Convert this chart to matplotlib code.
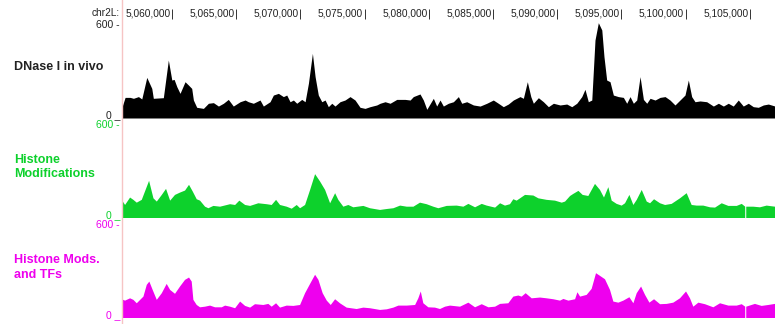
import numpy as np
import matplotlib
matplotlib.use("Agg")
import matplotlib.pyplot as plt
from matplotlib.lines import Line2D
from matplotlib.transforms import offset_copy

# genome window on chr2L, in kb
chrom = "chr2L"
view_start, view_end = 5056.10, 5106.96
tick_kb = [5060, 5065, 5070, 5075, 5080, 5085, 5090, 5095, 5100, 5105]

# DNase I in vivo signal (position kb, read depth)
dnase_pos = [5056.11, 5056.34, 5056.73, 5056.99, 5057.38, 5057.64, 5058.03, 5058.42, 5058.54,
             5059.32, 5059.71, 5059.98, 5060.16, 5060.37, 5060.62, 5061.01, 5061.27, 5061.53,
             5061.66, 5061.92, 5062.44, 5062.83, 5063.22, 5063.61, 5064.00, 5064.38, 5064.77,
             5065.30, 5065.69, 5065.94, 5066.33, 5066.85, 5067.11, 5067.63, 5067.89, 5068.28,
             5068.67, 5068.93, 5069.19, 5069.45, 5069.71, 5070.10, 5070.36, 5070.62, 5070.93,
             5071.14, 5071.39, 5071.66, 5071.92, 5072.17, 5072.44, 5072.69, 5073.08, 5073.47,
             5073.86, 5074.25, 5074.64, 5075.03, 5075.42, 5075.94, 5076.20, 5076.59, 5076.98,
             5077.50, 5078.15, 5078.54, 5078.79, 5079.31, 5079.57, 5079.84, 5080.35, 5080.61,
             5080.87, 5081.13, 5081.52, 5081.91, 5082.30, 5082.56, 5082.95, 5083.47, 5083.99,
             5084.51, 5085.02, 5085.41, 5085.80, 5086.19, 5086.58, 5087.10, 5087.36, 5087.67,
             5087.94, 5088.14, 5088.53, 5088.92, 5089.31, 5089.70, 5090.22, 5090.74, 5091.13,
             5091.52, 5091.91, 5092.16, 5092.42, 5092.69, 5092.94, 5093.20, 5093.47, 5093.64,
             5093.85, 5094.11, 5094.37, 5094.76, 5095.15, 5095.41, 5095.67, 5095.93, 5096.19,
             5096.45, 5096.71, 5096.97, 5097.23, 5097.62, 5098.01, 5098.40, 5098.78, 5099.17,
             5099.56, 5099.95, 5100.21, 5100.47, 5100.73, 5101.12, 5101.64, 5102.16, 5102.55,
             5102.94, 5103.32, 5103.71, 5104.10, 5104.49, 5104.88, 5105.27, 5105.66, 5106.05,
             5106.44, 5106.96]
dnase_val = [73, 133, 133, 127, 138, 123, 262, 191, 127,
             131, 374, 245, 249, 202, 159, 234, 213, 191,
             116, 69, 62, 95, 99, 77, 95, 120, 77,
             105, 116, 105, 95, 116, 77, 105, 148, 159,
             138, 148, 105, 116, 95, 120, 105, 224, 417,
             267, 148, 105, 116, 73, 95, 77, 105, 116,
             138, 116, 69, 62, 73, 84, 95, 105, 95,
             120, 120, 116, 138, 155, 116, 56, 127, 77,
             116, 77, 95, 105, 138, 95, 105, 84, 77,
             95, 116, 95, 73, 90, 116, 138, 127, 234,
             138, 95, 131, 105, 73, 95, 84, 90, 73,
             95, 138, 185, 105, 116, 503, 615, 568, 396,
             245, 234, 148, 138, 133, 95, 138, 95, 116,
             267, 120, 95, 127, 116, 133, 138, 116, 84,
             116, 148, 245, 138, 105, 110, 105, 77, 95,
             77, 95, 77, 116, 77, 95, 73, 69, 84,
             90, 77]

# Histone modification signal (nan = no data)
histone_pos = [5056.08, 5056.34, 5056.73, 5056.99, 5057.25, 5057.64, 5058.21, 5058.55, 5058.81,
               5059.20, 5059.53, 5059.85, 5060.23, 5060.62, 5061.01, 5061.32, 5061.61, 5061.92,
               5062.18, 5062.57, 5062.83, 5063.22, 5063.74, 5064.52, 5064.91, 5065.24, 5065.69,
               5066.08, 5066.72, 5067.37, 5067.76, 5068.10, 5068.41, 5068.93, 5069.32, 5069.71,
               5069.97, 5070.36, 5070.75, 5071.14, 5071.53, 5071.92, 5072.31, 5072.70, 5072.95,
               5073.34, 5073.73, 5074.12, 5074.90, 5075.42, 5076.20, 5076.72, 5077.24, 5077.76,
               5078.28, 5078.80, 5079.31, 5079.83, 5080.35, 5080.74, 5081.39, 5082.17, 5082.69,
               5083.08, 5083.60, 5084.12, 5084.51, 5085.16, 5085.55, 5085.93, 5086.32, 5086.58,
               5086.84, 5087.49, 5088.14, 5088.53, 5089.18, 5089.83, 5090.35, 5090.61, 5091.00,
               5091.26, 5091.65, 5091.98, 5092.42, 5092.94, 5093.33, 5093.64, 5093.98, 5094.24,
               5094.63, 5095.02, 5095.28, 5095.62, 5095.93, 5096.19, 5096.58, 5096.97, 5097.23,
               5097.54, 5098.01, 5098.40, 5098.91, 5099.56, 5100.08, 5100.47, 5100.86, 5101.38,
               5101.90, 5102.29, 5102.81, 5103.33, 5103.98, 5104.37, 5104.64, 5104.68, 5104.72,
               5105.27, 5105.79, 5106.31, 5106.96]
histone_val = [117, 84, 132, 117, 99, 117, 240, 127, 106,
               149, 188, 112, 149, 164, 177, 214, 171, 121,
               112, 73, 63, 78, 73, 89, 84, 112, 84,
               78, 95, 89, 84, 117, 84, 73, 60, 84,
               63, 84, 181, 283, 235, 181, 95, 160, 117,
               73, 84, 69, 78, 63, 52, 58, 63, 80,
               73, 73, 99, 89, 73, 63, 78, 80, 73,
               91, 69, 91, 80, 67, 95, 80, 89, 121,
               112, 149, 145, 127, 117, 112, 99, 106, 142,
               156, 175, 149, 142, 220, 181, 132, 199, 112,
               91, 80, 95, 149, 84, 117, 181, 106, 95,
               121, 95, 84, 91, 127, 160, 84, 80, 80,
               69, 67, 95, 78, 78, 91, 73, np.nan, 73,
               73, 69, 80, 73]

# Histone modifications plus transcription factors
combined_pos = [5056.08, 5056.34, 5056.73, 5056.99, 5057.25, 5057.77, 5058.03, 5058.23, 5058.49,
                5058.81, 5059.20, 5059.58, 5059.85, 5060.23, 5060.62, 5061.01, 5061.32, 5061.53,
                5061.66, 5061.92, 5062.18, 5062.57, 5062.96, 5063.35, 5063.87, 5064.13, 5064.52,
                5064.91, 5065.30, 5065.69, 5066.08, 5066.46, 5067.11, 5067.50, 5067.76, 5068.10,
                5068.41, 5068.93, 5069.45, 5069.97, 5070.36, 5070.75, 5071.14, 5071.40, 5071.73,
                5072.05, 5072.36, 5072.70, 5073.08, 5073.60, 5074.38, 5074.90, 5075.42, 5076.20,
                5076.72, 5077.24, 5077.63, 5078.28, 5078.93, 5079.18, 5079.37, 5079.57, 5079.96,
                5080.48, 5080.87, 5081.26, 5081.65, 5082.43, 5083.08, 5083.60, 5084.12, 5084.64,
                5085.16, 5085.55, 5086.19, 5086.58, 5086.97, 5087.23, 5087.54, 5088.01, 5088.66,
                5089.18, 5089.70, 5090.22, 5090.48, 5090.87, 5091.39, 5091.57, 5091.78, 5092.29,
                5092.68, 5093.02, 5093.33, 5093.72, 5094.11, 5094.37, 5094.76, 5095.15, 5095.62,
                5095.93, 5096.19, 5096.53, 5096.84, 5097.18, 5097.54, 5098.01, 5098.53, 5099.04,
                5099.56, 5100.03, 5100.34, 5100.60, 5100.99, 5101.51, 5102.16, 5102.68, 5103.33,
                5103.98, 5104.37, 5104.64, 5104.68, 5104.72, 5105.40, 5105.92, 5106.44, 5106.96]
combined_val = [121, 112, 127, 117, 95, 138, 214, 235, 181,
                117, 160, 220, 181, 156, 203, 246, 261, 235,
                117, 84, 69, 73, 80, 69, 69, 80, 73,
                63, 106, 78, 67, 89, 84, 91, 73, 95,
                67, 80, 78, 84, 160, 220, 279, 246, 160,
                112, 84, 121, 95, 67, 58, 67, 63, 52,
                56, 67, 80, 80, 84, 127, 171, 95, 69,
                67, 58, 73, 80, 73, 99, 69, 89, 69,
                73, 91, 95, 138, 145, 138, 160, 127, 132,
                127, 121, 112, 123, 112, 121, 166, 138, 149,
                188, 289, 272, 250, 181, 106, 99, 112, 134,
                95, 160, 203, 149, 99, 121, 89, 91, 99,
                127, 171, 127, 73, 99, 89, 69, 95, 80,
                80, 89, 73, np.nan, 73, 91, 78, 84, 91]

tracks = [
    ("DNase I in vivo", dnase_pos, dnase_val, "#000000", "#222222"),
    ("Histone\nModifications", histone_pos, histone_val, "#0dd12c", "#0dd12c"),
    ("Histone Mods.\nand TFs", combined_pos, combined_val, "#ee00ee", "#ee00ee"),
]

W, H = 775, 324
fig = plt.figure(figsize=(W / 100, H / 100), dpi=100)
plt.rcParams["font.family"] = ["Liberation Sans", "DejaVu Sans"]

left_px, right_px = 122, 775
track_h = 100          # pixel height of a track
scale_max = 600
ylim_top = scale_max * track_h / 93.0


def fx(px):
    return px / W


def fy(py):
    return 1 - py / H


# coordinate header
hax = fig.add_axes([fx(left_px), fy(20), fx(right_px - left_px), 20 / H])
hax.set_xlim(view_start, view_end)
hax.set_ylim(20, 0)
hax.axis("off")
hax.vlines(tick_kb, 9, 19, color="#333333", lw=0.7)
lbl_tr = offset_copy(hax.transData, fig=fig, x=-1.5, y=0, units="dots")
for t in tick_kb:
    hax.text(t, 13.5, f"{t * 1000:,}", transform=lbl_tr, ha="right", va="center",
             fontsize=7.3, color="#222222")
fig.text(fx(119.5), fy(13.5), f"{chrom}:", ha="right", va="center", fontsize=7.3,
         color="#222222")

label_y = [(66.5,), (159.5, 174.5), (260, 275)]
for i, (name, pos, val, fill_c, text_c) in enumerate(tracks):
    bottom = 118 + i * 100
    ax = fig.add_axes([fx(left_px), fy(bottom), fx(right_px - left_px), track_h / H])
    ax.set_xlim(view_start, view_end)
    ax.set_ylim(0, ylim_top)
    ax.axis("off")
    ax.fill_between(pos, 0, np.asarray(val, dtype=float), color=fill_c, lw=0)

    # track name
    for line, ly in zip(name.split("\n"), label_y[i]):
        fig.text(fx(14), fy(ly), line, ha="left", va="center", fontsize=9,
                 fontweight="bold", color=text_c)

    # data range labels
    fig.text(fx(120), fy(bottom - 93), "600 -", ha="right", va="center",
             fontsize=7.5, color=text_c if i else "#222222")
    fig.text(fx(120), fy(bottom - 3), "0 _", ha="right", va="center",
             fontsize=7.5, color=text_c if i else "#222222")

# window start guide line
fig.add_artist(Line2D([fx(121.7), fx(121.7)], [0, 1], transform=fig.transFigure,
                      color="#f6c4c4", lw=1.0))

fig.savefig("out.png", dpi=100)
